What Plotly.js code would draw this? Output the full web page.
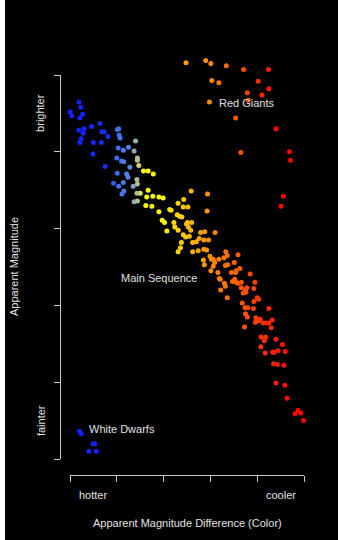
<!DOCTYPE html>
<html><head><meta charset="utf-8">
<script src="https://cdn.plot.ly/plotly-3.0.1.min.js"></script>
<style>
html,body{margin:0;padding:0;background:#fff;}
#chart{width:338px;height:540px;}
#edge{position:absolute;left:0;top:0;width:5px;height:540px;background:#fff;}
</style>
</head><body>
<div id="chart"></div><div id="edge"></div>
<script>
// Tick positions (unlabelled) on both axes
const xTicks = [0, 1, 2, 3, 4, 5];
const yTicks = [0, 1, 2, 3, 4, 5];
// Category labels placed between ticks
const xLabels = ["hotter", "cooler"];
const xLabelPos = [0.5, 4.5];
const yLabels = ["brighter", "fainter"];
const yLabelPos = [0.5, 4.5];

// Main sequence (x = colour, y = magnitude; small y = brighter)
const msX = [0.19,0.23,0.00,0.04,0.27,0.21,0.19,0.30,0.28,0.46,0.64,0.68,0.73,0.81,0.24,0.21,0.50,0.67,0.49,0.75,
1.01,1.04,1.05,1.07,1.03,1.14,1.25,1.37,1.40,1.00,1.10,1.15,1.28,1.44,1.44,1.47,1.57,1.67,1.78,1.01,1.21,1.24,1.43,1.44,0.93,1.04,1.14,1.35,1.11,1.15,1.50,1.43,1.67,1.64,1.77,1.90,1.99,1.37,1.44,1.62,1.75,1.90,
2.13,2.16,2.31,2.43,2.42,2.52,2.59,2.94,2.93,2.29,2.34,2.39,
1.97,2.02,2.07,2.22,2.24,2.31,2.49,2.51,2.60,2.53,2.58,2.42,2.47,2.55,2.79,2.88,3.10,
2.38,2.36,2.31,2.62,2.70,2.76,2.86,2.96,2.62,2.74,
2.86,2.92,2.85,2.87,2.99,3.02,3.06,3.01,3.09,3.06,3.18,3.29,3.33,3.36,3.59,
3.16,3.19,3.32,3.37,3.51,3.45,3.54,3.55,3.63,3.85,
3.52,3.21,3.30,3.32,3.47,3.55,3.59,3.66,3.95,
3.22,3.66,3.75,3.78,3.70,3.76,3.93,3.36,4.00,4.03,3.68,3.93,3.74,3.80,3.92,4.25,
3.75,3.79,3.97,4.03,4.06,3.96,4.13,4.20,4.25,4.32,3.73,4.30,
4.08,4.18,4.15,4.40,4.08,4.54,4.17,4.33,4.36,4.44,4.60,4.35,4.43,4.57,4.40,4.59,4.64,4.87,4.81,4.93,4.99];
const msY = [0.35,0.42,0.48,0.53,0.51,0.56,0.72,0.70,0.76,0.67,0.63,0.74,0.74,0.80,0.83,0.88,0.88,0.88,1.03,1.19,
0.71,0.70,0.78,0.82,0.95,0.98,0.94,0.99,0.86,1.08,1.12,1.13,1.20,1.08,1.11,1.18,1.25,1.25,1.29,1.28,1.29,1.33,1.36,1.42,1.41,1.45,1.40,1.45,1.55,1.51,1.54,1.54,1.50,1.59,1.58,1.59,1.60,1.65,1.64,1.70,1.71,1.78,
1.75,1.76,1.67,1.62,1.72,1.72,1.51,1.55,1.77,1.82,1.84,1.85,
1.89,1.92,2.03,1.92,1.98,2.02,1.94,1.92,1.92,1.98,2.02,2.08,2.11,2.10,2.05,2.04,2.05,
2.18,2.25,2.30,2.18,2.17,2.13,2.15,2.15,2.30,2.29,
2.27,2.28,2.41,2.47,2.36,2.40,2.40,2.55,2.44,2.49,2.40,2.38,2.30,2.35,2.34,
2.57,2.65,2.48,2.47,2.44,2.57,2.57,2.55,2.52,2.59,
2.66,2.66,2.71,2.75,2.69,2.70,2.71,2.70,2.70,
2.80,2.77,2.80,2.77,2.84,2.83,2.78,2.90,2.90,2.92,2.97,2.95,3.03,3.03,3.04,3.04,
3.11,3.15,3.16,3.20,3.18,3.22,3.23,3.23,3.23,3.19,3.28,3.29,
3.41,3.41,3.46,3.44,3.54,3.51,3.62,3.61,3.61,3.59,3.60,3.76,3.77,3.78,4.01,4.04,4.21,4.37,4.41,4.40,4.50];

// Red giants
const rgX = [2.48,2.90,3.01,3.34,3.71,4.24,3.03,3.18,4.02,4.25,3.79,4.10,3.81,2.98,3.54,4.40,3.65,4.69,4.71,4.56,4.51];
const rgY = [-0.16,-0.19,-0.15,-0.12,-0.07,-0.07,0.07,0.10,0.08,0.18,0.23,0.26,0.33,0.35,0.56,0.70,1.01,1.00,1.11,1.58,1.71];

// White dwarfs
const wdX = [0.20,0.24,0.49,0.53,0.40,0.56];
const wdY = [4.64,4.67,4.80,4.80,4.90,4.90];

const msScale = [[0,'#1020ff'],[0.17,'#1a2cff'],[0.19,'#3c66ee'],[0.262,'#5a88e2'],[0.272,'#8ca8b8'],[0.29,'#b4c488'],
 [0.30,'#e8ec30'],[0.31,'#ffff00'],[0.40,'#ffff00'],[0.42,'#ffe800'],[0.47,'#ffd400'],[0.52,'#ffb400'],
 [0.58,'#ff9800'],[0.62,'#ff8400'],[0.68,'#ff6c00'],[0.74,'#ff5400'],[0.80,'#ff3c00'],[0.86,'#ff2400'],[0.92,'#ff1000'],[1,'#ff0000']];
const rgScale = [[0,'#ffa000'],[0.25,'#ff8c00'],[0.4,'#ff6a00'],[0.6,'#ff4400'],[0.7,'#ff2800'],[0.85,'#ff0800'],[1,'#ff0000']];

const font = {family:'"Liberation Sans", Arial, Helvetica, sans-serif', size:11, color:'#e0e0e0'};
const lineCol = '#c8c8c8';

// Geometry: paper spans 60..475 px vertically (415 px); ticked span 75..459 px.
const H = 415;
const traces = [
 {type:'scatter', mode:'markers', x:[], y:[], xaxis:'x', yaxis:'y', hoverinfo:'skip'},
 {type:'scatter', mode:'markers', x:msX, y:msY, xaxis:'x', yaxis:'y2', cliponaxis:false, hoverinfo:'skip',
  marker:{size:5, color:msX, colorscale:msScale, cmin:0, cmax:5, line:{width:0}}},
 {type:'scatter', mode:'markers', x:rgX, y:rgY, xaxis:'x', yaxis:'y2', cliponaxis:false, hoverinfo:'skip',
  marker:{size:5, color:rgX, colorscale:rgScale, cmin:2.4, cmax:4.8, line:{width:0}}},
 {type:'scatter', mode:'markers', x:wdX, y:wdY, xaxis:'x', yaxis:'y2', cliponaxis:false, hoverinfo:'skip',
  marker:{size:5, color:'#1020ff', line:{width:0}}}
];

const axisBase = {showline:true, linecolor:lineCol, linewidth:1, ticks:'outside', ticklen:6, tickwidth:1,
  tickcolor:lineCol, showticklabels:false, showgrid:false, zeroline:false, fixedrange:true, anchor:'free', position:0};

const annotations = [
 {text:'Red Giants', xref:'x', yref:'y', x:3.14, y:0.365, xanchor:'left', yanchor:'middle'},
 {text:'Main Sequence', xref:'x', yref:'y', x:1.05, y:2.64, xanchor:'left', yanchor:'middle'},
 {text:'White Dwarfs', xref:'x', yref:'y', x:0.37, y:4.61, xanchor:'left', yanchor:'middle'},
 {text:'Apparent Magnitude Difference (Color)', xref:'paper', yref:'paper', x:(187-60)/244, y:(475-522.7)/H, xanchor:'center', yanchor:'middle'},
 {text:'Apparent Magnitude', xref:'paper', yref:'y', x:(14-60)/244, y:2.5, textangle:-90, xanchor:'center', yanchor:'middle'}
];
xLabels.forEach((t,i)=>annotations.push({text:t, xref:'x', yref:'paper', x:xLabelPos[i], y:(475-495.3)/H, xanchor:'center', yanchor:'middle'}));
yLabels.forEach((t,i)=>annotations.push({text:t, xref:'paper', yref:'y', x:(40.5-60)/244, y:yLabelPos[i], textangle:-90, xanchor:'center', yanchor:'middle'}));
annotations.forEach(a=>{a.showarrow=false; a.font=font;});

const layout = {
 width:338, height:540, paper_bgcolor:'#000', plot_bgcolor:'#000', showlegend:false,
 margin:{l:60, r:34, t:60, b:65, pad:0}, font:font,
 xaxis:Object.assign({}, axisBase, {domain:[10/244,1], range:[0,5], tickvals:xTicks}),
 yaxis:Object.assign({}, axisBase, {domain:[16/H,400/H], range:[5,0], tickvals:yTicks}),
 yaxis2:{domain:[16/H,1], range:[5,-15/76.8], visible:false, anchor:'x', fixedrange:true, showgrid:false, zeroline:false},
 annotations:annotations
};

Plotly.newPlot('chart', traces, layout, {displayModeBar:false, staticPlot:true});
</script>
</body></html>
